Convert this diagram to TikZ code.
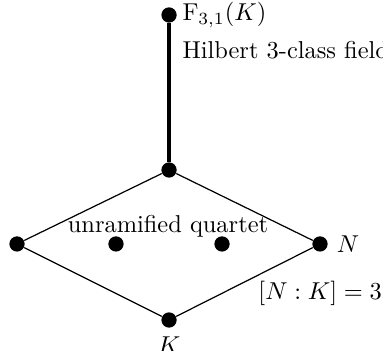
\documentclass[tikz,border=0pt]{standalone}
\usepackage{amsmath}
\usetikzlibrary{positioning}
\tikzset{
	field/.style={circle, fill=black, inner sep=0pt, minimum size=0.22cm},
	lbl/.style={inner sep=0pt},
	thin/.style={line width=0.5pt},
	thick/.style={line width=1.6pt}
}
\begin{document}
\begin{tikzpicture}
        \useasboundingbox (0,0) rectangle (5.515,5.054);
        \node[field] (hilb) at (2.434, 4.838) {};
        \node[field] (top) at (2.434, 2.606) {};
        \node[field] (q0) at (0.245, 1.541) {};
        \node[field] (q1) at (1.670, 1.541) {};
        \node[field] (q2) at (3.197, 1.541) {};
        \node[field] (N) at (4.608, 1.541) {};
        \node[field] (K) at (2.434, 0.446) {};

        \node[lbl, anchor=west] (hilblbl) at (2.621, 4.838) {$\mathrm{F}_{3,1}(K)$};
        \node[lbl, anchor=west] (hilbtxt) at (2.621, 4.334) {Hilbert 3-class field};
        \node[lbl] (quartet) at (2.419, 1.80) {unramified quartet};
        \node[lbl, right=0.12cm of N] (Nlbl) {$N$};
        \node[lbl, below=0.12cm of K] (Klbl) {$K$};
        \node[lbl, anchor=west] (deg) at (3.715, 0.835) {$[N:K]=3$};

        \draw[thick] (hilb) -- (top);
        \draw[thin] (top) -- (q0);
        \draw[thin] (top) -- (N);
        \draw[thin] (q0) -- (K);
        \draw[thin] (N) -- (K);
\end{tikzpicture}
\end{document}
